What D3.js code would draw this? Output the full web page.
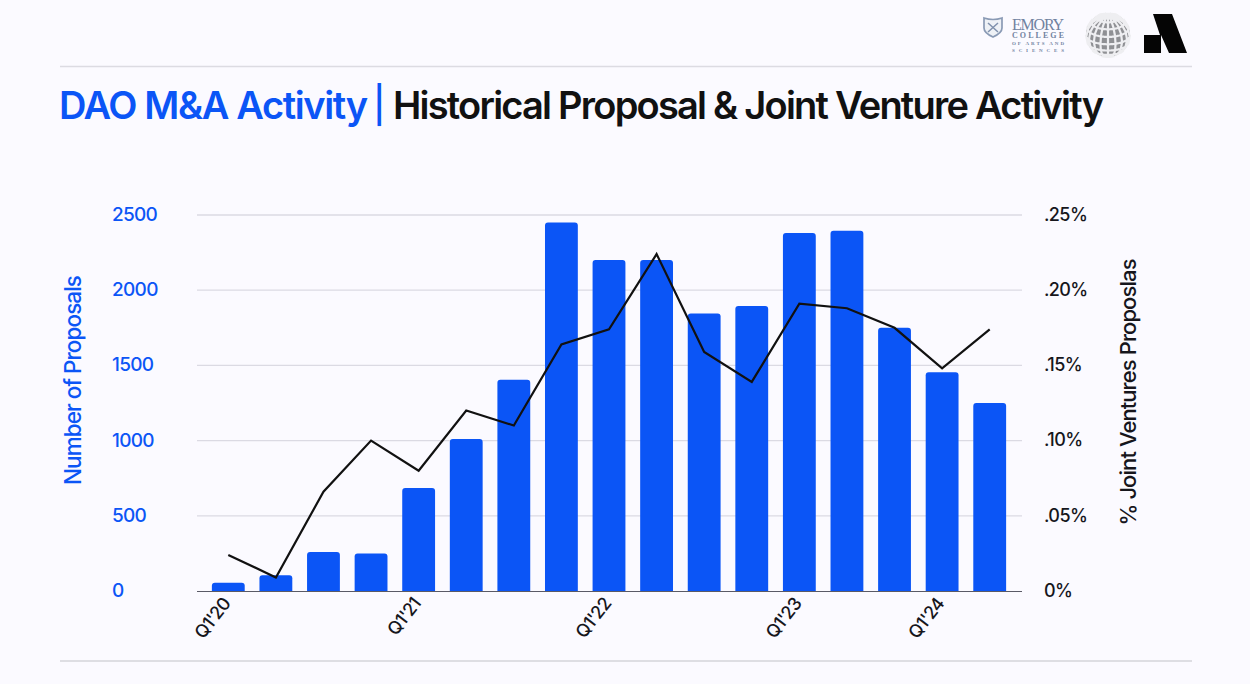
<!DOCTYPE html>
<html><head><meta charset="utf-8">
<script src="https://cdn.jsdelivr.net/npm/d3@7"></script>
<style>
html,body{margin:0;padding:0;background:#fbfaff;overflow:hidden}
svg{display:block}
text{font-family:Inter,"Noto Sans",sans-serif}
</style></head><body>
<svg id="c" width="1250" height="684"></svg>
<script>
const tickLabels=["Q1'20","Q1'21","Q1'22","Q1'23","Q1'24"];
const tickIndex=[0,4,8,12,15];
const proposals=[55,105,260,250,685,1010,1405,2450,2200,2200,1845,1895,2380,2395,1750,1455,1250];
const jvPct=[0.024,0.009,0.066,0.100,0.080,0.120,0.110,0.164,0.174,0.224,0.159,0.139,0.191,0.188,0.175,0.148,0.174];
const leftTicks=[0,500,1000,1500,2000,2500];
const rightTicks=[0,0.05,0.10,0.15,0.20,0.25];
const rightLabels=["0%",".05%",".10%",".15%",".20%",".25%"];
const BLUE="#0b55f6";
const svg=d3.select("#c");
const x=d3.scaleBand().domain(d3.range(proposals.length)).range([204.5,1013.5]).paddingInner(0.31).paddingOuter(0.155);
const yL=d3.scaleLinear().domain([0,2500]).range([591,215]);
const yR=d3.scaleLinear().domain([0,0.25]).range([591,215]);

// frame rules
svg.append("line").attr("x1",60).attr("x2",1192).attr("y1",66.5).attr("y2",66.5).attr("stroke","#dcdbe2").attr("stroke-width",1.3);
svg.append("line").attr("x1",60).attr("x2",1192).attr("y1",661).attr("y2",661).attr("stroke","#d5d4da").attr("stroke-width",1.5);

// title
svg.append("text").attr("x",59).attr("y",119).attr("font-size",38).attr("font-weight",600).attr("fill",BLUE).attr("textLength",309).attr("lengthAdjust","spacing").text("DAO M&A Activity");
svg.append("text").attr("x",373).attr("y",118).attr("font-size",36).attr("font-weight",500).attr("fill",BLUE).text("|");
svg.append("text").attr("x",393).attr("y",119).attr("font-size",38).attr("font-weight",600).attr("fill","#111").attr("textLength",711).attr("lengthAdjust","spacing").text("Historical Proposal & Joint Venture Activity");

// gridlines
svg.append("g").selectAll("line").data(leftTicks.slice(1)).join("line")
 .attr("x1",197).attr("x2",1022).attr("y1",d=>yL(d)).attr("y2",d=>yL(d)).attr("stroke","#dbdae3").attr("stroke-width",1.3);

// bars with rounded tops
svg.append("g").selectAll("path").data(proposals).join("path").attr("fill",BLUE)
 .attr("d",(d,i)=>{const x0=x(i),w=x.bandwidth(),t=yL(d),b=yL(0),r=Math.min(3,(b-t)/2);
  return `M${x0},${b}V${t+r}Q${x0},${t} ${x0+r},${t}H${x0+w-r}Q${x0+w},${t} ${x0+w},${t+r}V${b}Z`;});

// baseline
svg.append("line").attr("x1",197).attr("x2",1022).attr("y1",591.5).attr("y2",591.5).attr("stroke","#5a5a66").attr("stroke-width",1.2);

// line
const line=d3.line().x((d,i)=>x(i)+x.bandwidth()/2).y(d=>yR(d));
svg.append("path").datum(jvPct).attr("d",line).attr("fill","none").attr("stroke","#111").attr("stroke-width",2.2).attr("stroke-linejoin","miter");

// left ticks
const axL=d3.axisLeft(yL).tickValues(leftTicks).tickSize(0).tickPadding(0).tickFormat(d3.format("d"));
const gL=svg.append("g").attr("transform","translate(112,-0.5)").call(axL);
gL.select(".domain").remove();
gL.selectAll(".tick text").attr("x",0).attr("text-anchor","start").attr("fill",BLUE).attr("font-size",19).attr("font-weight",500).attr("letter-spacing",-0.7).style("font-family","Inter");
// right ticks
const axR=d3.axisRight(yR).tickValues(rightTicks).tickSize(0).tickPadding(0).tickFormat((d,i)=>rightLabels[i]);
const gR=svg.append("g").attr("transform","translate(1044,-0.5)").call(axR);
gR.select(".domain").remove();
gR.selectAll("text").attr("fill","#16161c").attr("font-size",18).attr("font-weight",500).attr("letter-spacing",-0.6).style("font-family","Inter");

// x labels
svg.append("g").selectAll("text").data(tickIndex).join("text")
 .attr("transform",i=>`translate(${x(i)+x.bandwidth()/2+3},${604}) rotate(-52)`)
 .attr("text-anchor","end").attr("fill","#16161c").attr("font-size",18).attr("font-weight",500).attr("letter-spacing",-0.8)
 .text((i,k)=>tickLabels[k]);

// axis titles
svg.append("text").attr("transform","translate(81,380) rotate(-90)").attr("text-anchor","middle").attr("fill",BLUE).attr("font-size",22.5).attr("font-weight",500).attr("textLength",210).text("Number of Proposals");
svg.append("text").attr("transform","translate(1136,392) rotate(-90)").attr("text-anchor","middle").attr("fill","#16161c").attr("font-size",22).attr("font-weight",500).attr("textLength",267).text("% Joint Ventures Proposlas");

// logos
const lg=svg.append("g");
lg.append("path").attr("d","M984,18Q993,21 1002,18V28Q1002,33 993,37Q984,33 984,28Z").attr("fill","#eef1f6").attr("stroke","#8a9ab5").attr("stroke-width",1.7);
lg.append("path").attr("d","M988,23L998,32M998,23L988,32").attr("stroke","#7f90ad").attr("stroke-width",1.5);
const logoText=[["EMORY",30,16,400],["COLLEGE",38,8,700],["OF ARTS AND",45,5,700],["SCIENCES",52,5,700]];
lg.selectAll("text.l").data(logoText).join("text").attr("class","l")
 .attr("x",1012).attr("y",d=>d[1]).attr("font-size",d=>d[2]).attr("font-weight",d=>d[3]).attr("textLength",52).attr("lengthAdjust","spacing").attr("fill","#71829f")
 .style("font-family","Liberation Serif").text(d=>d[0]);
const proj=d3.geoOrthographic().scale(22).translate([1108,35]).rotate([20,-25]);
const gp=d3.geoPath(proj);
lg.append("circle").attr("cx",1108).attr("cy",35).attr("r",22).attr("fill","#8f9094");
lg.append("path").datum(d3.geoGraticule().step([20,20])()).attr("d",gp).attr("fill","none").attr("stroke","#eeeef1").attr("stroke-width",2.2);
lg.append("path").attr("d","M1153,14H1172L1187,53H1169L1161,35V53H1144V35H1160Z").attr("fill","#050505");
</script>
</body></html>
